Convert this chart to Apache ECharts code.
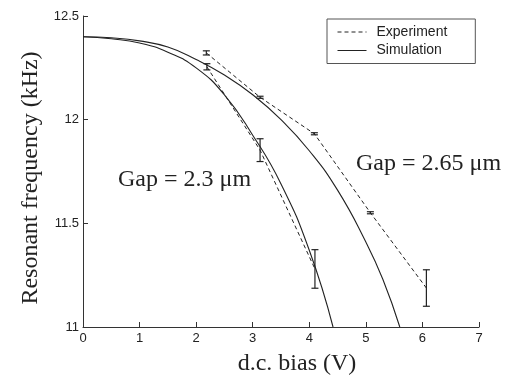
<!DOCTYPE html>
<html><head><meta charset="utf-8">
<script src="https://cdn.jsdelivr.net/npm/echarts@6/dist/echarts.min.js"></script>
<style>html,body{margin:0;padding:0;background:#fff}#c{width:509px;height:376px}</style>
</head><body><div id="c"></div>
<script>
// Experiment, gap = 2.65 um
const exp265X = [2.18, 3.13, 4.09, 5.08, 6.07];
const exp265Y = [12.322, 12.108, 11.932, 11.551, 11.188];
const exp265Err = [0.01, 0.005, 0.005, 0.005, 0.088];
// Experiment, gap = 2.3 um
const exp23X = [2.19, 3.13, 4.10];
const exp23Y = [12.255, 11.853, 11.28];
const exp23Err = [0.015, 0.055, 0.093];
// Simulation, gap = 2.65 um
const sim265X = [0, 0.5, 1.0, 1.5, 2.0, 2.5, 3.0, 3.5, 4.0, 4.5, 5.0, 5.3, 5.6];
const sim265Y = [12.40, 12.395, 12.38, 12.35, 12.29, 12.215, 12.12, 12.0, 11.85, 11.66, 11.41, 11.23, 11.0];
// Simulation, gap = 2.3 um
const sim23X = [0, 0.5, 1.0, 1.5, 2.0, 2.5, 3.0, 3.5, 4.0, 4.42];
const sim23Y = [12.40, 12.39, 12.37, 12.325, 12.25, 12.12, 11.925, 11.69, 11.37, 11.0];
// Axis ticks
const xTicks = [0, 1, 2, 3, 4, 5, 6, 7];
const yTicks = [11, 11.5, 12, 12.5];

const zip = (xs, ys) => xs.map((x, i) => [x, ys[i]]);
const errData = (xs, ys, es) => xs.map((x, i) => [x, ys[i] - es[i], ys[i] + es[i]]);

const SERIF = '"Liberation Serif", "Times New Roman", serif';
const SANS = '"Liberation Sans", Arial, Helvetica, sans-serif';
const INK = '#222';

function errRender(params, api) {
  const x = api.value(0);
  const lo = api.coord([x, api.value(1)]);
  const hi = api.coord([x, api.value(2)]);
  const w = 3.5;
  const st = { stroke: INK, lineWidth: 1.2, fill: null };
  return {
    type: 'group',
    children: [
      { type: 'line', shape: { x1: lo[0], y1: lo[1], x2: hi[0], y2: hi[1] }, style: st },
      { type: 'line', shape: { x1: lo[0] - w, y1: lo[1], x2: lo[0] + w, y2: lo[1] }, style: st },
      { type: 'line', shape: { x1: hi[0] - w, y1: hi[1], x2: hi[0] + w, y2: hi[1] }, style: st }
    ]
  };
}

const chart = echarts.init(document.getElementById('c'), null, { renderer: 'canvas' });
const dashStyle = { color: INK, width: 1, type: [4, 3] };
const solidStyle = { color: INK, width: 1.1, type: 'solid' };
chart.setOption({
  animation: false,
  backgroundColor: '#fff',
  grid: { left: 83, right: 30, top: 16, bottom: 49, containLabel: false, outerBoundsMode: 'none' },
  legend: {
    left: 327, top: 19,
    orient: 'vertical',
    data: ['Experiment', 'Simulation'],
    itemWidth: 29, itemHeight: 14, itemGap: 4.5,
    padding: [6, 28, 6, 10],
    borderColor: '#555', borderWidth: 1,
    backgroundColor: '#fff',
    itemStyle: { opacity: 0 },
    lineStyle: { width: 1 },
    textStyle: { fontFamily: SANS, fontSize: 14, color: INK, padding: [0, 0, 0, 5] }
  },
  xAxis: {
    type: 'value', min: 0, max: 7, interval: 1,
    name: 'd.c. bias (V)', nameLocation: 'middle', nameGap: 25,
    nameTextStyle: { fontFamily: SERIF, fontSize: 24, color: INK, padding: [0, 0, 0, 32] },
    axisLine: { lineStyle: { color: '#333', width: 1 } },
    axisTick: { inside: true, length: 5, lineStyle: { color: '#333' } },
    axisLabel: { fontFamily: SANS, fontSize: 13, color: INK, margin: 5,
      formatter: v => xTicks.includes(v) ? String(v) : '' },
    splitLine: { show: false }
  },
  yAxis: {
    type: 'value', min: 11, max: 12.5, interval: 0.5,
    name: 'Resonant frequency (kHz)', nameLocation: 'middle', nameGap: 39,
    nameTextStyle: { fontFamily: SERIF, fontSize: 24, color: INK, padding: [0, 13, 0, 0] },
    axisLine: { show: true, lineStyle: { color: '#333', width: 1 } },
    axisTick: { show: true, inside: true, length: 5, lineStyle: { color: '#333' } },
    axisLabel: { fontFamily: SANS, fontSize: 13, color: INK, margin: 4,
      formatter: v => yTicks.includes(v) ? String(v) : '' },
    splitLine: { show: false }
  },
  series: [
    { name: 'Experiment', type: 'line', data: zip(exp265X, exp265Y), symbol: 'none', lineStyle: dashStyle, itemStyle: { color: INK } },
    { name: 'Experiment', type: 'line', data: zip(exp23X, exp23Y), symbol: 'none', lineStyle: dashStyle, itemStyle: { color: INK } },
    { name: 'Simulation', type: 'line', data: zip(sim265X, sim265Y), symbol: 'none', smooth: 0.5, lineStyle: solidStyle, itemStyle: { color: INK } },
    { name: 'Simulation', type: 'line', data: zip(sim23X, sim23Y), symbol: 'none', smooth: 0.5, lineStyle: solidStyle, itemStyle: { color: INK } },
    { type: 'custom', renderItem: errRender, data: errData(exp265X, exp265Y, exp265Err), encode: { x: 0, y: [1, 2] }, silent: true, z: 5 },
    { type: 'custom', renderItem: errRender, data: errData(exp23X, exp23Y, exp23Err), encode: { x: 0, y: [1, 2] }, silent: true, z: 5 }
  ],
  graphic: [
    { type: 'text', left: 118, top: 168, style: { text: 'Gap = 2.3 μm', font: '24px ' + SERIF, fill: INK } },
    { type: 'text', left: 356, top: 152, style: { text: 'Gap = 2.65 μm', font: '24px ' + SERIF, fill: INK } }
  ]
});
</script></body></html>
